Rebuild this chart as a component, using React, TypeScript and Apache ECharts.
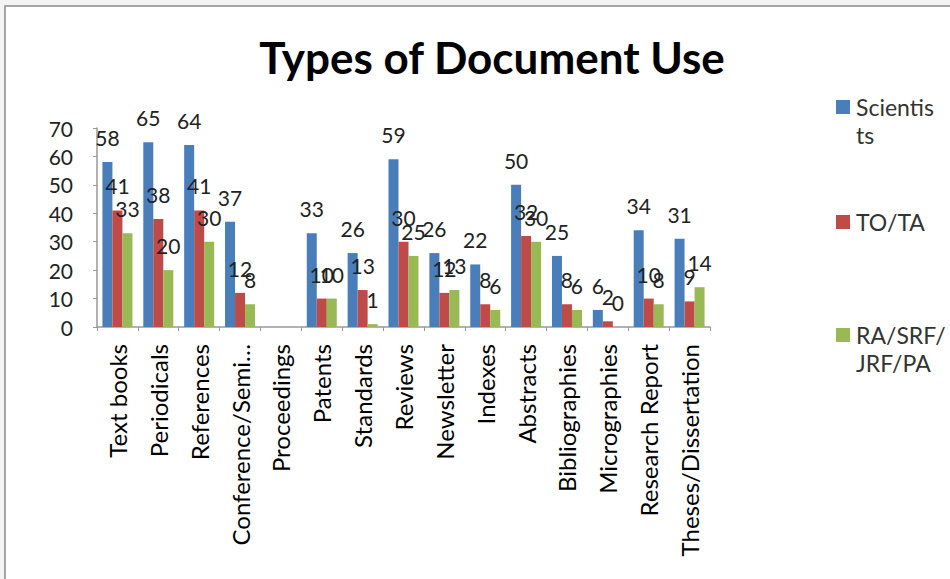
import React, { useEffect, useRef } from "react";
import * as echarts from "echarts";

const categories = [
  "Text books",
  "Periodicals",
  "References",
  "Conference/Semi…",
  "Proceedings",
  "Patents",
  "Standards",
  "Reviews",
  "Newsletter",
  "Indexes",
  "Abstracts",
  "Bibliographies",
  "Micrographies",
  "Research Report",
  "Theses/Dissertation",
];

const scientists = [58, 65, 64, 37, null, 33, 26, 59, 26, 22, 50, 25, 6, 34, 31];
const toTa = [41, 38, 41, 12, null, 10, 13, 30, 12, 8, 32, 8, 2, 10, 9];
const raSrf = [33, 20, 30, 8, null, 10, 1, 25, 13, 6, 30, 6, 0, 8, 14];

const seriesNames = ["Scientists", "TO/TA", "RA/SRF/JRF/PA"];
const legendLines = [["Scientis", "ts"], ["TO/TA"], ["RA/SRF/", "JRF/PA"]];
const colors = ["#4a7ebb", "#be4b48", "#98b954"];
const yTicks = { min: 0, max: 70, interval: 10 };

const FONT = "Lato, 'Open Sans', sans-serif";

export default function App() {
  const ref = useRef<HTMLDivElement>(null);
  useEffect(() => {
    if (!ref.current) return;
    const chart = echarts.init(ref.current, null, { renderer: "svg" });
    const values = [scientists, toTa, raSrf];
    const legendCenters = [107, 222, 335];
    const lineGap = 28;
    const option: any = {
      animation: false,
      backgroundColor: "#f3f3f3",
      textStyle: { fontFamily: FONT },
      title: {
        text: "Types of Document Use",
        left: 487,
        textAlign: "center",
        top: 30,
        textStyle: { fontSize: 44, fontWeight: "bold", color: "#000", fontFamily: FONT },
      },
      legend: seriesNames.map((n, i) => ({
        data: [n],
        orient: "vertical",
        left: 836,
        top: legendCenters[i] - 14,
        itemWidth: 14,
        itemHeight: 14,
        icon: "rect",
        itemGap: 0,
        padding: 0,
        formatter: () => legendLines[i][0],
        textStyle: {
          fontSize: 23,
          lineHeight: 28,
          color: "#333",
          fontFamily: FONT,
          padding: [0, 0, 0, 1],
        },
        selectedMode: false,
      })),
      graphic: [
        {
          type: "rect",
          z: -10,
          shape: { x: 5, y: 6, width: 980, height: 620 },
          style: { fill: "#fff", stroke: "#8a8a8a", lineWidth: 1.5 },
          silent: true,
        },
        ...legendLines
          .map((lines, i) =>
            lines.length > 1
              ? {
                  type: "text",
                  x: 856,
                  y: legendCenters[i] + lineGap,
                  style: {
                    text: lines[1],
                    fontSize: 23,
                    fill: "#333",
                    fontFamily: FONT,
                    verticalAlign: "middle",
                  },
                }
              : null
          )
          .filter(Boolean),
      ],
      grid: { left: 97, right: 240, top: 128, bottom: 252, containLabel: false },
      xAxis: {
        type: "category",
        data: categories,
        axisLine: { lineStyle: { color: "#999", width: 1.5 } },
        axisTick: { show: true, length: 4, lineStyle: { color: "#999" } },
        axisLabel: {
          rotate: 90,
          interval: 0,
          fontSize: 24,
          color: "#000",
          margin: 17,
          fontFamily: FONT,
        },
      },
      yAxis: {
        type: "value",
        min: yTicks.min,
        max: yTicks.max,
        interval: yTicks.interval,
        axisLine: { show: true, lineStyle: { color: "#999", width: 1.5 } },
        axisTick: { show: true, length: 4, lineStyle: { color: "#999" } },
        splitLine: { show: false },
        axisLabel: { fontSize: 21, color: "#222", margin: 24, fontFamily: FONT },
      },
      series: seriesNames.map((n, i) => ({
        name: n,
        type: "bar",
        data: values[i],
        barWidth: 10,
        barGap: "0%",
        itemStyle: { color: colors[i] },
        label: {
          show: true,
          position: "top",
          distance: 14,
          fontSize: 21,
          color: "#222",
          fontFamily: FONT,
        },
      })),
    };
    chart.setOption(option);
    return () => chart.dispose();
  }, []);
  return (
    <div
      ref={ref}
      style={{ position: "fixed", left: 0, top: 0, width: 950, height: 579 }}
    />
  );
}
